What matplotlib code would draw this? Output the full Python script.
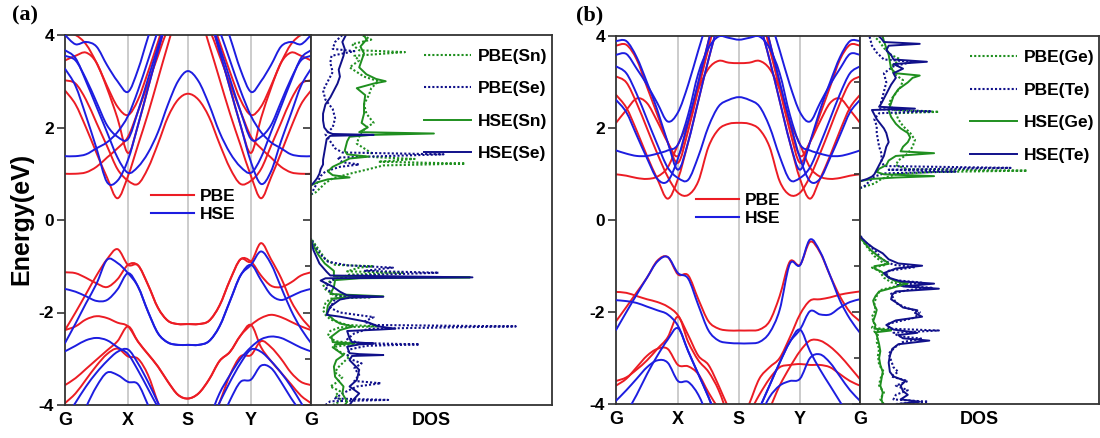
import numpy as np
import matplotlib
matplotlib.use("Agg")
import matplotlib.pyplot as plt
from matplotlib.lines import Line2D
from matplotlib.path import Path
from matplotlib.patches import PathPatch

plt.rcParams['font.family'] = ['Liberation Sans', 'DejaVu Sans']
plt.rcParams['font.weight'] = 'bold'
plt.rcParams['axes.labelweight'] = 'bold'
plt.rcParams['axes.unicode_minus'] = False

nan = float('nan')

# ---------------- k-path ----------------
k_labels = ['G', 'X', 'S', 'Y', 'G']
k_nodes_a = [0.0, 63.0, 123.0, 186.0, 246.0]
k_nodes_b = [0.0, 62.0, 123.0, 184.0, 244.0]

# ---------------- band energies (eV), 25 k-points along G-X-S-Y-G ----------------
a_pbe_bands = [
    [1.00, 1.00, 1.03, 1.15, 1.35, 1.55, 1.80, 2.35, 2.95, 3.55, 4.15, 4.60, 4.80, 4.60, 4.15, 3.55, 2.95, 2.35, 1.80, 1.55, 1.35, 1.15, 1.03, 1.00, 1.00],
    [2.80, 2.50, 2.00, 1.45, 0.92, 0.47, 0.95, 1.62, 2.30, 3.05, 3.80, 4.50, 4.80, 4.50, 3.80, 3.05, 2.30, 1.62, 0.95, 0.47, 0.92, 1.45, 2.00, 2.50, 2.80],
    [3.02, 2.95, 2.60, 2.10, 1.60, 1.10, 0.85, 0.78, 1.12, 1.65, 2.23, 2.60, 2.73, 2.60, 2.23, 1.65, 1.12, 0.78, 0.85, 1.10, 1.60, 2.10, 2.60, 2.95, 3.02],
    [3.45, 3.55, 3.62, 3.40, 2.85, 2.20, 1.45, 2.05, 2.85, 3.65, 4.40, 4.90, 5.10, 4.90, 4.40, 3.65, 2.85, 2.05, 1.45, 2.20, 2.85, 3.40, 3.62, 3.55, 3.45],
    [4.05, 4.00, 3.80, 3.40, 2.90, 2.45, 2.27, 2.60, 3.20, 3.85, 4.50, 5.00, 5.20, 5.00, 4.50, 3.85, 3.20, 2.60, 2.27, 2.45, 2.90, 3.40, 3.80, 4.00, 4.05],
    [-1.13, -1.15, -1.25, -1.37, -1.45, -1.28, -0.97, -0.98, -1.40, -1.90, -2.18, -2.25, -2.25, -2.25, -2.18, -1.85, -1.30, -0.85, -0.90, -1.20, -1.42, -1.45, -1.35, -1.20, -1.13],
    [-2.38, -2.00, -1.60, -1.20, -0.85, -0.63, -0.97, -0.98, -1.40, -1.90, -2.18, -2.25, -2.25, -2.25, -2.18, -1.85, -1.30, -0.85, -0.90, -0.50, -0.85, -1.25, -1.75, -2.10, -2.35],
    [-2.38, -2.30, -2.15, -2.08, -2.12, -2.22, -2.30, -2.63, -2.90, -3.17, -3.50, -3.78, -3.86, -3.75, -3.45, -3.05, -2.85, -2.50, -2.27, -2.12, -2.05, -2.10, -2.20, -2.30, -2.38],
    [-3.57, -3.42, -3.22, -3.02, -2.82, -2.62, -2.30, -2.63, -2.90, -3.17, -3.50, -3.78, -3.86, -3.75, -3.45, -3.05, -2.85, -2.50, -2.27, -2.75, -3.05, -3.30, -3.55, -3.80, -3.96],
    [-3.96, -3.75, -3.45, -3.15, -2.90, -2.78, -2.95, -3.00, -3.35, -3.95, -4.50, -4.80, -4.90, -4.80, -4.50, -3.95, -3.35, -2.95, -2.92, -2.62, -2.75, -3.00, -3.30, -3.50, -3.57],
]
a_hse_bands = [
    [1.38, 1.38, 1.42, 1.55, 1.68, 1.90, 2.25, 2.80, 3.45, 4.10, 4.70, 5.10, 5.30, 5.10, 4.70, 4.10, 3.45, 2.80, 2.25, 1.90, 1.68, 1.55, 1.42, 1.38, 1.38],
    [3.27, 2.90, 2.25, 1.55, 0.82, 0.85, 1.30, 2.05, 2.85, 3.65, 4.40, 5.00, 5.20, 5.00, 4.40, 3.65, 2.85, 2.05, 1.25, 0.78, 1.05, 1.70, 2.30, 2.90, 3.27],
    [3.67, 3.50, 3.00, 2.45, 1.90, 1.35, 1.02, 1.15, 1.45, 1.90, 2.50, 3.00, 3.22, 3.00, 2.50, 1.90, 1.45, 1.15, 1.02, 1.35, 1.90, 2.45, 3.00, 3.50, 3.67],
    [4.00, 3.80, 3.85, 3.75, 3.35, 3.00, 2.77, 3.25, 3.95, 4.60, 5.20, 5.50, 5.60, 5.50, 5.20, 4.60, 3.95, 3.25, 2.77, 3.00, 3.35, 3.75, 3.85, 3.80, 4.00],
    [3.55, 3.45, 3.05, 2.55, 2.05, 1.80, 1.75, 2.35, 3.05, 3.75, 4.40, 4.90, 5.10, 4.90, 4.40, 3.75, 3.05, 2.35, 1.75, 1.80, 2.05, 2.55, 3.05, 3.45, 3.55],
    [-1.49, -1.55, -1.65, -1.75, -1.73, -1.50, -1.15, -1.44, -1.98, -2.45, -2.65, -2.70, -2.70, -2.70, -2.62, -2.30, -1.75, -1.20, -0.97, -1.30, -1.62, -1.73, -1.65, -1.55, -1.49],
    [-2.66, -2.24, -1.80, -1.38, -0.86, -0.93, -1.15, -1.44, -1.98, -2.45, -2.65, -2.70, -2.70, -2.70, -2.62, -2.30, -1.75, -1.20, -0.97, -0.68, -0.95, -1.45, -1.95, -2.35, -2.66],
    [-2.84, -2.72, -2.60, -2.55, -2.60, -2.75, -2.90, -3.25, -3.65, -4.05, -4.40, -4.70, -4.80, -4.70, -4.30, -3.75, -3.35, -3.00, -2.75, -2.58, -2.52, -2.55, -2.65, -2.76, -2.84],
    [-4.30, -3.95, -3.60, -3.30, -3.05, -2.85, -2.80, -3.10, -3.50, -3.95, -4.40, -4.70, -4.80, -4.70, -4.40, -3.95, -3.50, -3.10, -2.80, -2.85, -3.05, -3.30, -3.60, -3.95, -4.30],
    [-5.00, -4.60, -4.05, -3.60, -3.30, -3.35, -3.50, -3.55, -4.00, -4.50, -4.90, -5.00, -5.00, -5.00, -4.80, -4.40, -3.90, -3.50, -3.45, -3.15, -3.20, -3.50, -3.85, -4.15, -4.40],
]
b_pbe_bands = [
    [1.00, 0.97, 0.92, 0.90, 0.95, 1.15, 1.65, 2.15, 2.85, 3.30, 3.47, 3.43, 3.42, 3.43, 3.47, 3.30, 2.85, 2.15, 1.65, 1.15, 0.95, 0.90, 0.92, 0.97, 1.00],
    [3.13, 3.00, 2.55, 2.00, 1.45, 0.95, 0.60, 0.55, 0.85, 1.60, 1.98, 2.10, 2.12, 2.10, 1.98, 1.60, 0.85, 0.55, 0.60, 0.95, 1.45, 2.00, 2.55, 3.00, 3.13],
    [2.73, 2.45, 1.95, 1.40, 0.90, 0.47, 0.90, 1.70, 2.60, 3.50, 4.30, 4.90, 5.10, 4.90, 4.30, 3.50, 2.60, 1.70, 0.90, 0.47, 0.90, 1.40, 1.95, 2.45, 2.73],
    [3.80, 3.82, 3.50, 2.90, 2.30, 1.70, 1.25, 1.95, 2.85, 3.75, 4.60, 5.10, 5.30, 5.10, 4.60, 3.75, 2.85, 1.95, 1.25, 1.70, 2.30, 2.90, 3.50, 3.82, 3.80],
    [2.12, 2.40, 2.65, 2.55, 2.15, 1.70, 1.40, 2.10, 3.00, 3.90, 4.70, 5.20, 5.40, 5.20, 4.70, 3.90, 3.00, 2.10, 1.40, 1.70, 2.15, 2.55, 2.65, 2.40, 2.12],
    [-1.56, -1.58, -1.65, -1.72, -1.78, -1.88, -2.07, -2.50, -2.95, -3.15, -3.60, -4.10, -4.50, -4.00, -3.45, -3.20, -3.00, -2.55, -2.05, -1.75, -1.72, -1.68, -1.62, -1.58, -1.55],
    [-2.20, -1.89, -1.57, -1.25, -0.88, -0.80, -1.18, -1.20, -1.72, -2.20, -2.36, -2.40, -2.40, -2.40, -2.38, -2.20, -1.65, -0.90, -0.97, -0.47, -0.70, -1.20, -1.66, -2.00, -2.20],
    [-3.50, -3.42, -3.25, -3.05, -2.80, -2.55, -2.10, -2.65, -3.05, -3.30, -3.70, -4.30, -4.80, -4.70, -4.50, -4.10, -3.60, -3.20, -2.85, -2.62, -2.62, -2.75, -2.95, -3.20, -3.46],
    [-3.60, -3.45, -3.20, -2.95, -2.80, -2.80, -3.15, -3.18, -3.35, -3.75, -4.10, -4.40, -4.50, -4.20, -3.80, -3.45, -3.20, -3.15, -3.13, -3.15, -3.15, -3.20, -3.35, -3.50, -3.60],
]
b_hse_bands = [
    [1.52, 1.45, 1.40, 1.40, 1.45, 1.52, 1.65, 2.30, 3.20, 3.75, 4.00, 3.97, 3.93, 3.97, 4.00, 3.75, 3.20, 2.30, 1.65, 1.52, 1.45, 1.40, 1.40, 1.45, 1.52],
    [3.35, 3.20, 2.75, 2.20, 1.65, 1.15, 0.92, 0.88, 1.39, 2.04, 2.48, 2.62, 2.68, 2.62, 2.48, 2.04, 1.39, 0.88, 0.92, 1.15, 1.65, 2.20, 2.75, 3.20, 3.35],
    [2.62, 2.35, 1.85, 1.35, 0.90, 0.85, 1.35, 2.15, 3.00, 3.90, 4.70, 5.20, 5.40, 5.20, 4.70, 3.90, 3.00, 2.15, 1.35, 0.85, 0.90, 1.35, 1.85, 2.35, 2.62],
    [3.60, 3.62, 3.30, 2.95, 2.55, 2.15, 2.35, 2.95, 3.70, 4.40, 5.00, 5.40, 5.50, 5.40, 5.00, 4.40, 3.70, 2.95, 2.35, 2.15, 2.55, 2.95, 3.30, 3.62, 3.60],
    [3.90, 3.90, 3.55, 3.00, 2.40, 1.70, 1.10, 1.70, 2.60, 3.50, 4.30, 4.90, 5.10, 4.90, 4.30, 3.50, 2.60, 1.70, 1.10, 1.70, 2.40, 3.00, 3.55, 3.90, 3.90],
    [-1.74, -1.76, -1.80, -1.88, -1.96, -2.05, -2.30, -2.85, -3.35, -3.85, -4.40, -4.80, -5.00, -4.60, -4.10, -3.60, -3.10, -2.65, -2.38, -1.98, -2.05, -2.05, -1.90, -1.78, -1.72],
    [-2.39, -2.00, -1.62, -1.25, -0.90, -0.80, -1.15, -1.27, -1.85, -2.40, -2.62, -2.67, -2.68, -2.68, -2.65, -2.45, -1.95, -0.95, -0.98, -0.42, -0.68, -1.20, -1.75, -2.15, -2.45],
    [-3.93, -3.70, -3.45, -3.20, -3.05, -3.10, -3.50, -3.52, -3.80, -4.30, -4.70, -4.90, -5.00, -4.75, -4.30, -3.85, -3.60, -3.50, -3.45, -3.00, -2.92, -3.10, -3.40, -3.70, -3.93],
    [-4.60, -4.20, -3.80, -3.35, -2.95, -2.60, -2.35, -2.85, -3.35, -3.85, -4.40, -4.80, -5.00, -4.60, -4.10, -3.60, -3.10, -2.65, -2.38, -2.85, -3.25, -3.60, -3.95, -4.30, -4.60],
]

# ---------------- projected DOS (energy in eV, DOS in arb. units) ----------------
# panel (a): SnSe
a_pbe_sn_e = [-4.0, -3.9, -3.8, -3.7, -3.6, -3.5, -3.4, -3.3, -3.2, -3.05, -2.95, -2.85, -2.75, -2.7, -2.68, -2.62, -2.5, -2.4, -2.32, -2.3, -2.27, -2.15, -2.05, -1.95, -1.8, -1.7, -1.67, -1.64, -1.5, -1.4, -1.3, -1.18, -1.14, -1.11, -1.03, -1.0, -0.97, -0.85, -0.7, -0.55, -0.4,
              nan,
              0.55, 0.6, 0.7, 0.8, 0.9, 1.0, 1.1, 1.18, 1.22, 1.26, 1.32, 1.36, 1.45, 1.55, 1.65, 1.8, 1.9, 2.0, 2.1, 2.3, 2.5, 2.7, 2.85, 3.0, 3.1, 3.3, 3.45, 3.55, 3.63, 3.67, 3.8, 3.9, 4.0]
a_pbe_sn_v = [0.9, 1.3, 1.0, 1.2, 0.8, 1.1, 1.3, 1.0, 1.1, 1.4, 1.6, 1.2, 0.9, 1.5, 2.1, 1.0, 0.7, 0.8, 1.2, 2.8, 1.5, 0.8, 0.6, 0.5, 0.6, 0.8, 2.5, 1.0, 0.6, 0.5, 0.9, 1.6, 3.8, 1.5, 2.0, 2.6, 1.0, 0.6, 0.4, 0.2, 0.0,
              nan,
              0.0, 0.2, 0.4, 0.6, 0.9, 1.6, 2.4, 3.0, 6.4, 2.8, 4.3, 2.6, 2.5, 2.2, 1.9, 2.0, 2.1, 2.3, 2.6, 2.3, 2.2, 2.4, 2.5, 2.8, 2.2, 1.6, 2.0, 1.8, 3.9, 2.0, 1.7, 2.5, 2.1]
a_pbe_se_e = [-4.0, -3.92, -3.89, -3.86, -3.75, -3.6, -3.53, -3.48, -3.35, -3.2, -3.1, -3.0, -2.9, -2.8, -2.72, -2.69, -2.66, -2.58, -2.45, -2.35, -2.3, -2.27, -2.2, -2.1, -2.0, -1.9, -1.8, -1.7, -1.66, -1.6, -1.45, -1.3, -1.2, -1.14, -1.1, -1.03, -0.98, -0.9, -0.75, -0.6, -0.45, -0.4,
              nan,
              0.55, 0.65, 0.8, 0.95, 1.05, 1.15, 1.2, 1.25, 1.35, 1.42, 1.46, 1.55, 1.7, 1.85, 2.0, 2.2, 2.4, 2.6, 2.8, 3.0, 3.2, 3.4, 3.55, 3.65, 3.7, 3.85, 4.0]
a_pbe_se_v = [0.6, 0.8, 3.2, 1.0, 1.3, 1.9, 2.9, 1.8, 2.0, 1.8, 2.1, 1.6, 1.5, 1.6, 2.3, 4.5, 2.0, 1.5, 1.8, 2.4, 8.5, 2.6, 2.2, 2.6, 1.2, 0.8, 0.9, 1.0, 1.5, 0.9, 0.6, 0.9, 1.8, 5.3, 2.2, 3.4, 1.5, 0.7, 0.4, 0.2, 0.05, 0.0,
              nan,
              0.0, 0.1, 0.25, 0.4, 0.6, 1.2, 2.0, 1.3, 1.1, 5.5, 1.3, 1.0, 0.8, 0.6, 0.9, 1.0, 0.9, 0.6, 0.5, 0.7, 0.9, 0.8, 0.85, 1.8, 0.9, 1.0, 1.3]
a_hse_sn_e = [-4.0, -3.93, -3.75, -3.6, -3.39, -3.17, -3.03, -2.92, -2.77, -2.69, -2.67, -2.64, -2.52, -2.38, -2.3, -2.24, -2.16, -2.02, -1.85, -1.7, -1.67, -1.65, -1.6, -1.45, -1.3, -1.26, -1.24, -1.22, -1.1, -0.94, -0.75, -0.6, -0.43,
              nan,
              0.75, 0.82, 0.88, 0.92, 0.97, 1.05, 1.15, 1.25, 1.33, 1.37, 1.42, 1.5, 1.6, 1.7, 1.8, 1.84, 1.87, 1.9, 2.0, 2.1, 2.3, 2.5, 2.7, 2.85, 2.95, 3.0, 3.05, 3.15, 3.3, 3.45, 3.6, 3.75, 3.9, 4.0]
a_hse_sn_v = [1.4, 1.5, 1.3, 1.35, 1.0, 0.95, 1.05, 1.35, 0.95, 1.0, 1.8, 0.9, 0.85, 1.2, 1.75, 1.2, 0.95, 0.65, 0.7, 0.9, 1.6, 3.0, 0.8, 0.95, 1.0, 2.0, 6.6, 0.95, 0.95, 0.57, 0.3, 0.15, 0.0,
              nan,
              0.0, 0.3, 0.7, 1.6, 0.9, 0.7, 0.9, 1.3, 1.6, 2.4, 1.5, 1.4, 1.45, 1.5, 1.6, 2.5, 5.1, 2.0, 2.35, 2.1, 2.2, 2.2, 2.25, 1.9, 2.6, 3.1, 2.7, 2.3, 2.0, 2.1, 2.2, 2.05, 2.3, 2.2]
a_hse_se_e = [-4.0, -3.89, -3.75, -3.6, -3.46, -3.24, -3.03, -2.94, -2.92, -2.9, -2.88, -2.74, -2.69, -2.67, -2.64, -2.56, -2.4, -2.37, -2.35, -2.3, -2.2, -2.09, -2.05, -1.87, -1.72, -1.68, -1.66, -1.63, -1.55, -1.44, -1.31, -1.26, -1.24, -1.2, -1.12, -0.94, -0.65, -0.43,
              nan,
              0.75, 0.8, 0.9, 1.0, 1.1, 1.2, 1.3, 1.45, 1.6, 1.75, 1.82, 1.84, 1.86, 1.9, 2.0, 2.15, 2.3, 2.5, 2.65, 2.8, 2.95, 3.1, 3.25, 3.4, 3.55, 3.7, 3.85, 4.0]
a_hse_se_v = [1.6, 1.75, 2.0, 1.6, 1.9, 2.0, 1.6, 1.7, 3.0, 2.0, 1.6, 1.5, 2.0, 2.6, 1.7, 1.6, 1.5, 2.8, 3.5, 2.8, 2.3, 1.2, 0.65, 0.8, 1.2, 1.6, 3.0, 1.5, 1.2, 0.9, 0.4, 0.6, 6.7, 0.8, 0.65, 0.35, 0.1, 0.0,
              nan,
              0.0, 0.1, 0.25, 0.35, 0.4, 0.5, 0.5, 0.55, 0.6, 0.65, 0.8, 2.6, 0.9, 0.7, 0.55, 0.5, 0.5, 0.6, 0.8, 0.95, 1.1, 1.2, 1.15, 1.25, 1.35, 1.4, 1.3, 1.45]

# panel (b): GeTe
b_pbe_ge_e = [-4.0, -3.9, -3.75, -3.6, -3.45, -3.3, -3.15, -2.95, -2.8, -2.65, -2.5, -2.42, -2.38, -2.34, -2.25, -2.1, -1.95, -1.8, -1.65, -1.52, -1.45, -1.4, -1.35, -1.25, -1.1, -1.03, -0.97, -0.9, -0.78, -0.62, -0.48, -0.35,
              nan,
              0.7, 0.75, 0.8, 0.9, 1.0, 1.05, 1.08, 1.11, 1.2, 1.3, 1.45, 1.6, 1.75, 1.9, 2.05, 2.2, 2.33, 2.36, 2.4, 2.55, 2.7, 2.9, 3.05, 3.2, 3.35, 3.5, 3.6, 3.75, 3.9, 4.0]
b_pbe_ge_v = [1.0, 0.85, 1.0, 0.8, 0.85, 1.0, 0.8, 0.75, 0.8, 0.7, 0.75, 0.6, 1.3, 0.5, 0.6, 0.5, 0.65, 0.6, 0.7, 0.85, 1.4, 1.8, 1.3, 1.0, 0.8, 0.5, 1.1, 0.9, 0.6, 0.35, 0.15, 0.0,
              nan,
              0.0, 0.3, 0.6, 0.9, 1.5, 3.0, 7.0, 2.0, 1.5, 1.6, 2.0, 2.2, 2.3, 2.1, 1.8, 1.6, 1.5, 3.3, 1.4, 1.2, 1.4, 1.7, 1.8, 1.4, 1.3, 1.7, 1.3, 1.0, 0.8, 0.6]
b_pbe_te_e = [-4.0, -3.95, -3.9, -3.8, -3.7, -3.6, -3.5, -3.4, -3.3, -3.2, -3.05, -2.9, -2.75, -2.65, -2.58, -2.52, -2.45, -2.4, -2.36, -2.25, -2.12, -2.0, -1.9, -1.8, -1.7, -1.6, -1.52, -1.47, -1.42, -1.36, -1.3, -1.2, -1.1, -1.02, -0.97, -0.85, -0.7, -0.55, -0.42, -0.3,
              nan,
              0.7, 0.75, 0.85, 0.95, 1.02, 1.06, 1.1, 1.14, 1.18, 1.3, 1.45, 1.6, 1.75, 1.9, 2.05, 2.2, 2.33, 2.37, 2.42, 2.6, 2.8, 3.0, 3.2, 3.35, 3.45, 3.5, 3.65, 3.8, 4.0]
b_pbe_te_v = [1.5, 2.85, 1.4, 1.5, 2.0, 1.5, 2.0, 1.3, 1.6, 1.4, 1.3, 1.2, 1.5, 1.8, 2.6, 1.6, 1.4, 3.3, 1.2, 1.2, 2.3, 2.5, 1.9, 1.5, 1.4, 1.3, 2.0, 3.0, 1.5, 2.6, 1.4, 1.1, 1.2, 2.3, 1.4, 0.9, 0.7, 0.4, 0.1, 0.0,
              nan,
              0.0, 0.2, 0.4, 0.6, 1.0, 4.0, 1.2, 6.3, 1.0, 0.9, 0.9, 0.8, 0.75, 0.7, 0.7, 0.6, 0.8, 3.0, 0.8, 0.9, 1.0, 1.1, 1.0, 1.4, 2.2, 1.0, 0.7, 0.5, 0.4]
b_hse_ge_e = [-4.0, -3.9, -3.75, -3.6, -3.45, -3.3, -3.15, -3.0, -2.85, -2.7, -2.6, -2.5, -2.44, -2.4, -2.36, -2.28, -2.2, -2.05, -1.95, -1.85, -1.75, -1.65, -1.55, -1.48, -1.42, -1.38, -1.33, -1.25, -1.12, -1.05, -1.0, -0.95, -0.9, -0.8, -0.65, -0.5, -0.4, -0.35,
              nan,
              0.85, 0.9, 0.93, 0.96, 1.0, 1.05, 1.12, 1.2, 1.3, 1.4, 1.46, 1.5, 1.6, 1.7, 1.8, 1.9, 2.0, 2.1, 2.25, 2.4, 2.55, 2.7, 2.85, 3.0, 3.1, 3.15, 3.2, 3.3, 3.45, 3.6, 3.75, 3.9, 4.0]
b_hse_ge_v = [0.95, 0.9, 0.95, 0.85, 0.9, 0.95, 0.85, 0.8, 0.85, 0.8, 0.75, 0.7, 0.65, 1.3, 0.6, 0.65, 0.55, 0.65, 0.7, 0.6, 0.55, 0.65, 0.8, 1.3, 1.7, 2.0, 1.5, 1.2, 0.9, 0.6, 0.6, 1.2, 1.1, 0.8, 0.45, 0.2, 0.05, 0.0,
              nan,
              0.0, 0.5, 1.5, 3.1, 1.0, 0.7, 0.8, 1.1, 1.2, 1.5, 3.1, 1.7, 1.8, 2.0, 2.1, 2.0, 1.7, 1.5, 1.3, 1.2, 1.3, 1.4, 1.6, 2.0, 2.2, 2.5, 1.5, 1.3, 1.25, 1.2, 1.1, 1.0, 0.95]
b_hse_te_e = [-4.0, -3.95, -3.9, -3.8, -3.72, -3.6, -3.5, -3.4, -3.3, -3.1, -2.95, -2.8, -2.7, -2.62, -2.57, -2.5, -2.45, -2.38, -2.28, -2.18, -2.1, -2.02, -1.96, -1.9, -1.82, -1.72, -1.62, -1.55, -1.49, -1.44, -1.38, -1.33, -1.25, -1.15, -1.05, -0.99, -0.94, -0.85, -0.72, -0.6, -0.5, -0.4, -0.35,
              nan,
              0.85, 0.9, 0.95, 1.0, 1.1, 1.2, 1.3, 1.4, 1.5, 1.6, 1.7, 1.8, 1.9, 2.0, 2.1, 2.2, 2.3, 2.4, 2.43, 2.47, 2.55, 2.65, 2.8, 2.95, 3.1, 3.2, 3.3, 3.4, 3.45, 3.5, 3.6, 3.7, 3.8, 3.84, 3.88, 3.95, 4.0]
b_hse_te_v = [1.6, 2.5, 1.7, 2.0, 1.8, 1.7, 1.9, 1.4, 1.25, 1.2, 1.25, 1.35, 1.6, 2.9, 1.8, 1.6, 2.4, 1.4, 1.1, 1.5, 2.6, 2.3, 2.4, 1.8, 1.6, 1.3, 1.35, 1.5, 3.3, 1.8, 3.1, 1.7, 1.2, 1.0, 1.5, 2.6, 1.6, 1.2, 0.95, 0.55, 0.3, 0.1, 0.0,
              nan,
              0.0, 0.3, 0.5, 0.6, 0.7, 0.8, 0.9, 1.0, 1.05, 1.1, 1.2, 1.15, 1.1, 1.0, 0.85, 0.7, 0.6, 0.5, 2.3, 0.8, 0.9, 1.0, 1.15, 1.3, 1.5, 1.4, 1.8, 1.4, 2.8, 1.4, 1.3, 1.1, 1.2, 2.5, 1.0, 0.9, 0.8]

# ---------------- style ----------------
RED = '#ec1c24'
BLUE = '#1d1de0'
GREEN = '#1f8f1f'
NAVY = '#10108a'
GRID_GRAY = '#c4c4c4'
SPINE = '#333333'
DOTS = (0, (1, 1))

W, H = 1100, 438
fig = plt.figure(figsize=(W / 100, H / 100), dpi=100)


def px_axes(x0, x1, ytop, ybot):
    return fig.add_axes([x0 / W, 1 - ybot / H, (x1 - x0) / W, (ybot - ytop) / H])


def path_positions(nodes, per_seg=6):
    pts = [nodes[0]]
    for a, b in zip(nodes[:-1], nodes[1:]):
        pts.extend(np.linspace(a, b, per_seg + 1)[1:])
    return np.array(pts)


def smooth_band_path(x, y):
    """Cubic Bezier path passing through every (k, E) point (Catmull-Rom tangents)."""
    pts = np.column_stack([x, y])
    n = len(pts)
    verts = [pts[0]]
    codes = [Path.MOVETO]
    for i in range(n - 1):
        p_prev = pts[i - 1] if i > 0 else pts[i]
        p_next = pts[i + 2] if i + 2 < n else pts[i + 1]
        c1 = pts[i] + (pts[i + 1] - p_prev) / 6.0
        c2 = pts[i + 1] - (p_next - pts[i]) / 6.0
        verts += [c1, c2, pts[i + 1]]
        codes += [Path.CURVE4] * 3
    return Path(verts, codes)


def style_spines(ax):
    for s in ax.spines.values():
        s.set_linewidth(1.3)
        s.set_color(SPINE)


def draw_bands(ax, nodes, pbe, hse, legend_xy):
    k = path_positions(nodes)
    for x in nodes[1:-1]:
        ax.axvline(x, color=GRID_GRAY, lw=1.2, zorder=1)
    for rows, color, z in ((pbe, RED, 2), (hse, BLUE, 3)):
        for row in rows:
            ax.add_patch(PathPatch(smooth_band_path(k, row), fill=False,
                                   edgecolor=color, lw=1.4, zorder=z,
                                   capstyle='round', joinstyle='round'))
    ax.set_xlim(nodes[0], nodes[-1])
    ax.set_ylim(-4, 4)
    ax.set_xticks(nodes)
    ax.set_xticklabels(k_labels)
    ax.set_yticks([-4, -2, 0, 2, 4])
    ax.tick_params(axis='x', length=0, labelsize=13, pad=5)
    ax.tick_params(axis='y', direction='out', length=6, width=1.2, labelsize=12.5, pad=2,
                   color=SPINE)
    style_spines(ax)
    handles = [Line2D([], [], color=RED, lw=1.5), Line2D([], [], color=BLUE, lw=1.5)]
    ax.legend(handles, ['PBE', 'HSE'], loc='center', bbox_to_anchor=legend_xy,
              frameon=False, prop={'size': 12.5, 'weight': 'bold'},
              handlelength=2.5, handletextpad=0.3, labelspacing=0.15, borderpad=0.1)


def draw_dos(ax, curves, labels):
    for (e, v, color, ls), lab in zip(curves, labels):
        ax.plot(v, e, color=color, lw=1.4 if ls == '-' else 1.5, linestyle=ls, label=lab)
    ax.set_xlim(0, 10)
    ax.set_ylim(-4, 4)
    ax.set_xticks([])
    ax.set_yticks([-4, -2, 0, 2, 4])
    ax.set_yticks([-3, -1, 1, 3], minor=True)
    ax.tick_params(axis='y', which='both', direction='out', labelleft=False, width=1.2,
                   color=SPINE)
    ax.tick_params(axis='y', which='major', length=6)
    ax.tick_params(axis='y', which='minor', length=4)
    ax.set_xlabel('DOS', fontsize=13, fontweight='bold', labelpad=5)
    style_spines(ax)
    ax.legend(loc='upper right', bbox_to_anchor=(1.0, 0.975), frameon=False,
              prop={'size': 12.5, 'weight': 'bold'}, handlelength=2.7,
              handletextpad=0.4, labelspacing=1.0, borderpad=0.1, borderaxespad=0.15)


# ---------------- panel (a) ----------------
ax_ba = px_axes(65, 311, 35, 405)
ax_da = px_axes(311, 552, 35, 405)
draw_bands(ax_ba, k_nodes_a, a_pbe_bands, a_hse_bands, (0.52, 0.54))
draw_dos(ax_da,
         [(a_pbe_sn_e, a_pbe_sn_v, GREEN, DOTS),
          (a_pbe_se_e, a_pbe_se_v, NAVY, DOTS),
          (a_hse_sn_e, a_hse_sn_v, GREEN, '-'),
          (a_hse_se_e, a_hse_se_v, NAVY, '-')],
         ['PBE(Sn)', 'PBE(Se)', 'HSE(Sn)', 'HSE(Se)'])

# ---------------- panel (b) ----------------
ax_bb = px_axes(616, 860, 36.5, 404)
ax_db = px_axes(860, 1099, 36.5, 404)
draw_bands(ax_bb, k_nodes_b, b_pbe_bands, b_hse_bands, (0.5, 0.53))
draw_dos(ax_db,
         [(b_pbe_ge_e, b_pbe_ge_v, GREEN, DOTS),
          (b_pbe_te_e, b_pbe_te_v, NAVY, DOTS),
          (b_hse_ge_e, b_hse_ge_v, GREEN, '-'),
          (b_hse_te_e, b_hse_te_v, NAVY, '-')],
         ['PBE(Ge)', 'PBE(Te)', 'HSE(Ge)', 'HSE(Te)'])

fig.text(21 / W, 1 - 219 / H, 'Energy(eV)', rotation=90, ha='center', va='center',
         fontsize=18, fontweight='bold')
fig.text(25 / W, 1 - 15 / H, '(a)', ha='center', va='center', fontsize=16,
         fontweight='bold', family=['Liberation Serif', 'DejaVu Serif'])
fig.text(590 / W, 1 - 15 / H, '(b)', ha='center', va='center', fontsize=16,
         fontweight='bold', family=['Liberation Serif', 'DejaVu Serif'])

fig.savefig('out.png', dpi=100, facecolor='white')
